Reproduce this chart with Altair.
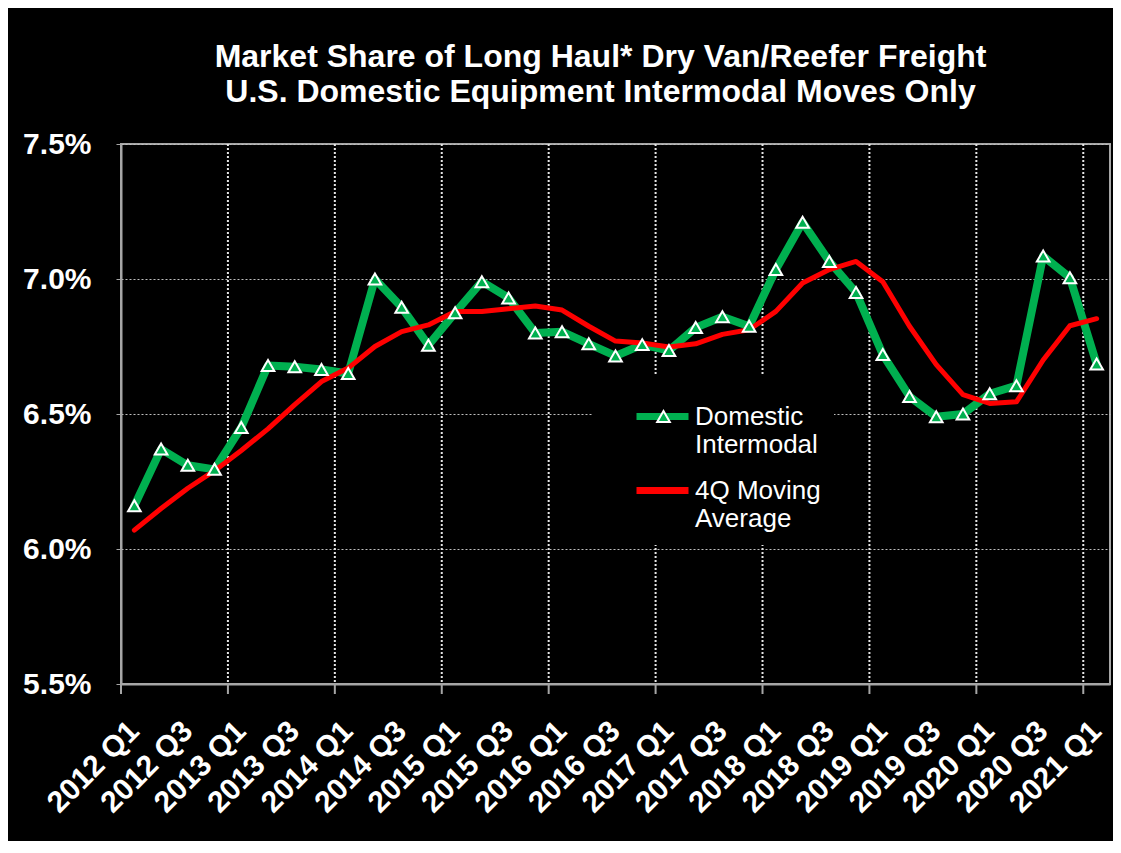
import altair as alt
import pandas as pd

quarters = [f"{y} Q{q}" for y in range(2012, 2022) for q in range(1, 5)][:37]

domestic_intermodal = [
    6.16, 6.37, 6.31, 6.295,
    6.45, 6.68, 6.675, 6.665,
    6.65, 7.00, 6.895, 6.755,
    6.875, 6.99, 6.93, 6.80,
    6.805, 6.76, 6.715, 6.757,
    6.735, 6.82, 6.86, 6.825,
    7.035, 7.21, 7.065, 6.95,
    6.72, 6.565, 6.49, 6.50,
    6.575, 6.605, 7.085, 7.005,
    6.685,
]

moving_average_4q = [
    6.07, 6.15, 6.225, 6.29,
    6.365, 6.445, 6.535, 6.62,
    6.67, 6.75, 6.805, 6.83,
    6.88, 6.88, 6.89, 6.90,
    6.885, 6.825, 6.77, 6.763,
    6.748, 6.76, 6.795, 6.812,
    6.88, 6.985, 7.035, 7.065,
    6.99, 6.825, 6.683, 6.572,
    6.539, 6.545, 6.70, 6.827,
    6.853,
]

series_names = ["Domestic Intermodal", "4Q Moving Average"]
series_colors = ["#00B050", "#FF0000"]
y_ticks = [5.5, 6.0, 6.5, 7.0, 7.5]
label_quarters = [q for q in quarters if q.endswith("Q1") or q.endswith("Q3")]
year_starts = [q for q in quarters if q.endswith("Q1")]

title_lines = [
    "Market Share of Long Haul* Dry Van/Reefer Freight",
    "U.S. Domestic Equipment Intermodal Moves Only",
]

FONT = "Liberation Sans"
W, H = 989, 540

df = pd.DataFrame({
    "quarter": quarters * 2,
    "share": domestic_intermodal + moving_average_4q,
    "series": [series_names[0]] * len(quarters) + [series_names[1]] * len(quarters),
})
pts = pd.DataFrame({
    "quarter": quarters,
    "share": domestic_intermodal,
    "marker": [series_names[0]] * len(quarters),
})
grid_df = pd.DataFrame({"quarter": year_starts[1:]})
tick_df = pd.DataFrame({"quarter": year_starts})

x_scale = alt.Scale(type="band", domain=quarters, paddingInner=0, paddingOuter=0)
y_scale = alt.Scale(domain=[5.5, 7.5], nice=False, zero=False)

x_axis = alt.Axis(
    values=label_quarters, labelAngle=-45, labelAlign="right", labelBaseline="middle",
    labelFontSize=30, labelFont=FONT, labelFontWeight="bold", labelColor="white",
    labelPadding=42, ticks=False, grid=False, domainColor="#a6a6a6", domainWidth=2,
    title=None, labelOverlap=False,
)
y_axis = alt.Axis(
    values=y_ticks, labelExpr="format(datum.value, '.1f') + '%'",
    labelFontSize=30, labelFont=FONT, labelFontWeight="bold", labelColor="white",
    labelPadding=25, tickSize=5, tickColor="#a6a6a6", tickWidth=1,
    grid=True, gridColor="#bfbfbf", gridDash=[2, 2], gridWidth=1,
    domainColor="#a6a6a6", domainWidth=2, title=None,
)

color_legend = alt.Legend(
    orient="none", legendX=472, legendY=230, title=None,
    symbolType="stroke", symbolSize=2704, symbolStrokeWidth=7,
    labelFontSize=26, labelFont=FONT, labelColor="white",
    labelExpr=("datum.label == 'Domestic Intermodal' ? ['Domestic', 'Intermodal'] : "
               "['4Q Moving\\u00a0\\u00a0\\u00a0\\u00a0\\u00a0', 'Average']"),
    fillColor="black", padding=13, symbolOffset=27, labelOffset=3, rowPadding=3,
)
color = alt.Color("series:N", scale=alt.Scale(domain=series_names, range=series_colors), legend=color_legend)

x_enc = alt.X("quarter:N", scale=x_scale, bandPosition=0.5, axis=x_axis)
y_enc = alt.Y("share:Q", scale=y_scale, axis=y_axis)

vgrid = alt.Chart(grid_df).mark_rule(color="#e6e6e6", strokeWidth=2, strokeDash=[2, 2]).encode(
    x=alt.X("quarter:N", scale=x_scale, bandPosition=0, axis=x_axis),
    y=alt.value(0), y2=alt.value(H),
)
xticks = alt.Chart(tick_df).mark_rule(color="#a6a6a6", strokeWidth=2).encode(
    x=alt.X("quarter:N", scale=x_scale, bandPosition=0, axis=x_axis),
    y=alt.value(H), y2=alt.value(H + 10),
)

green_line = alt.Chart(df).transform_filter(
    alt.datum.series == series_names[0]
).mark_line(strokeWidth=8, strokeJoin="round", strokeCap="round").encode(x=x_enc, y=y_enc, color=color)

red_line = alt.Chart(df).transform_filter(
    alt.datum.series == series_names[1]
).mark_line(strokeWidth=5, strokeJoin="round", strokeCap="round").encode(x=x_enc, y=y_enc, color=color)

points = alt.Chart(pts).mark_point(
    filled=True, fill="#00B050", stroke="white", strokeWidth=2, opacity=1, size=160
).encode(
    x=x_enc, y=y_enc,
    shape=alt.Shape("marker:N", scale=alt.Scale(domain=[series_names[0]], range=["triangle-up"]),
                    legend=alt.Legend(orient="none", legendX=535, legendY=265, title=None,
                                      labelExpr="''", padding=0, symbolSize=160,
                                      symbolStrokeWidth=2, symbolOpacity=1)),
)

chart = alt.layer(vgrid, xticks, green_line, red_line, points).properties(
    width=W, height=H,
    autosize=alt.AutoSizeParams(type="none"),
    padding={"left": 113, "top": 136, "right": 3, "bottom": 157},
    background="black",
    title=alt.TitleParams(
        text=title_lines, fontSize=32, font=FONT, fontWeight="bold", color="white",
        anchor="middle", dx=-15, offset=20, lineHeight=35,
    ),
).configure_view(stroke="#a6a6a6", strokeWidth=2)

chart.save("out.html", embed_options={"renderer": "svg", "actions": False})
